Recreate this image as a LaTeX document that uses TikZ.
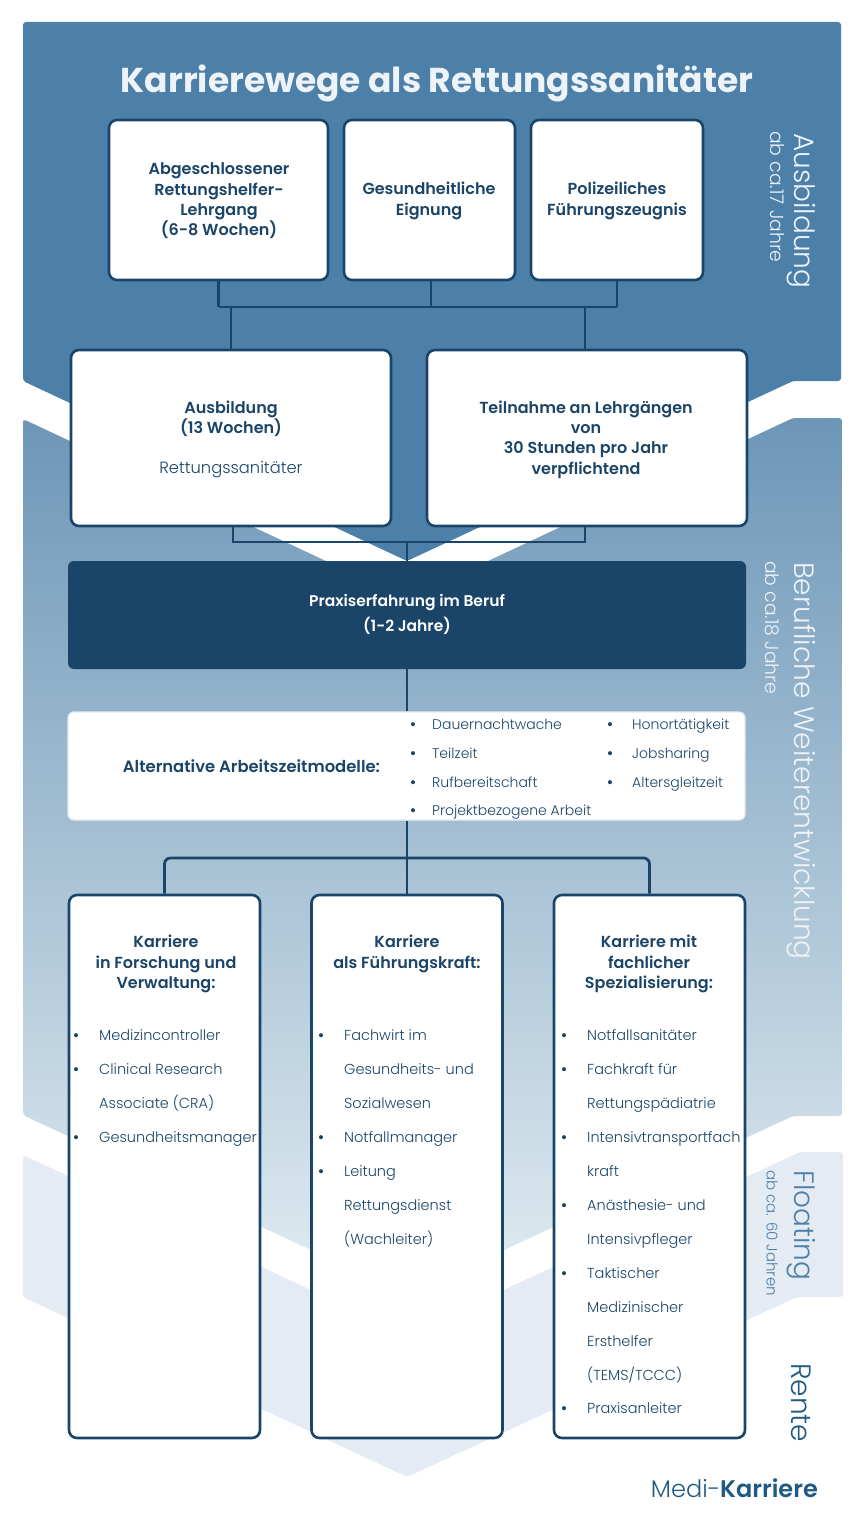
\documentclass[tikz,border=0pt]{standalone}
\usepackage{fontspec}
\setmainfont{Poppins}[UprightFont=* Light,BoldFont=* SemiBold]
\newfontface\titlefont{Poppins Bold}
\definecolor{navy}{HTML}{1B4568}
\definecolor{bandA}{HTML}{4D80A9}
\definecolor{bandBt}{HTML}{6D96B7}
\definecolor{bandBb}{HTML}{E1ECF2}
\definecolor{bandC}{HTML}{E4EBF3}
\definecolor{logo}{HTML}{1F5A85}
\definecolor{titlec}{HTML}{EEF3F8}
\tikzset{
  x=1pt,y=-1pt,
  card/.style={draw=navy,line width=2.6pt,fill=white,rounded corners=8pt},
  link/.style={draw=navy,line width=2.8pt},
  hd/.style={text=navy,align=center,font=\bfseries\fontsize{16}{20.3}\selectfont,inner sep=0pt},
  item/.style={text=navy,anchor=base west,inner sep=0pt,font=\fontsize{14.5}{17}\selectfont},
  dot/.style={text=navy,anchor=base,inner sep=0pt,font=\bfseries\fontsize{14.5}{17}\selectfont},
  side/.style={rotate=-90,anchor=west,inner sep=0pt,font=\fontsize{28}{32}\selectfont},
  subside/.style={rotate=-90,anchor=west,inner sep=0pt,font=\fontsize{18.8}{20}\selectfont},
}
\newcommand{\lst}[4]{% bullet x, text x, centre y, text
  \node[dot] (b-#1-#3) at (#1,#3+5) {•};
  \node[item] (t-#2-#3) at (#2,#3+5) {#4};}
\newcommand{\lsta}[4]{% the same, in the smaller size of the white band
  \node[dot] (b-#1-#3) at (#1,#3+5) {•};
  \node[item,font=\fontsize{14}{17}\selectfont] (t-#2-#3) at (#2,#3+5) {#4};}
\newcommand{\cnt}[3]{\node[item] (t-#1-#2) at (#1,#2+5) {#3};}
\begin{document}
\begin{tikzpicture}
\useasboundingbox (0,0) rectangle (864,1536);
\fill[white] (0,0) rectangle (864,1536);
% bands
\fill[bandC,rounded corners=3pt] (23,1155) -- (407,1335) -- (800,1152) -- (843,1152) -- (843,1297) -- (797,1297) -- (407,1477) -- (23,1297) -- cycle;
\shade[top color=bandBt,bottom color=bandBb,rounded corners=3pt] (23,419) -- (407,599) -- (793,418) -- (842,418) -- (842,1116) -- (793,1116) -- (407,1295) -- (23,1115) -- cycle;
\fill[bandA,rounded corners=3pt] (23,22) -- (841,22) -- (841,381) -- (793,381) -- (407,561) -- (23,381) -- cycle;
% title
\node[text=titlec,font=\titlefont\fontsize{34.5}{40}\selectfont,inner sep=0pt] (title) at (437,83) {Karrierewege als Rettungssanitäter};
% coordinates of the connector buses
\coordinate (busA) at (407,307);
\coordinate (busB) at (407,542);
\coordinate (busC) at (407,858);
% top cards
\node[card,minimum width=219pt,minimum height=160pt] (a) at (218.5,200) {};
\node[card,minimum width=171pt,minimum height=160pt] (b) at (429.5,200) {};
\node[card,minimum width=172pt,minimum height=160pt] (c) at (617,200) {};
\node[hd] (at) at (219,201) {Abgeschlossener\\Rettungshelfer-\\Lehrgang\\(6-8 Wochen)};
\node[hd] (bt) at (429,201) {Gesundheitliche\\Eignung};
\node[hd] (ct) at (617,201) {Polizeiliches\\Führungszeugnis};
% second row
\node[card,minimum width=320pt,minimum height=176pt] (d) at (231,438) {};
\node[card,minimum width=320pt,minimum height=176pt] (e) at (587,438) {};
\node[hd] (dt) at (231,418.5) {Ausbildung\\(13 Wochen)};
\node[text=navy,inner sep=0pt,font=\fontsize{16.3}{20}\selectfont] (dl) at (231,470) {Rettungssanitäter};
\node[hd] (et) at (586,439.5) {Teilnahme an Lehrgängen\\von\\30 Stunden pro Jahr\\verpflichtend};
% connectors upper
\draw[link] (a.south) -- (a.south |- busA);
\draw[link] (431,280) -- (431,307);
\draw[link] (c.south) -- (c.south |- busA);
\draw[link] (a.south |- busA) -- (c.south |- busA);
\draw[link] (d.north) -- (d.north |- busA);
\draw[link] (585,307) -- (585,350);
% practice box
\node[fill=navy,rounded corners=6pt,minimum width=678pt,minimum height=108pt,inner sep=0pt] (p) at (407,615) {};
\node[text=white,align=center,inner sep=0pt,font=\bfseries\fontsize{15.5}{25}\selectfont] (pt) at (407,614.5) {Praxiserfahrung im Beruf\\(1-2 Jahre)};
\draw[link] (233,526) -- (233,542) -- (585,542) -- (585,526);
\draw[link] (busB) -- (p.north);
% alternative box
\node[fill=white,draw=bandC,line width=1.2pt,rounded corners=6pt,minimum width=677pt,minimum height=108pt,inner sep=0pt] (alt) at (406.5,766) {};
\draw[link] (p.south) -- (alt.north -| p.south);
\node[hd,font=\bfseries\fontsize{16.4}{20}\selectfont] (altt) at (251.5,766) {Alternative Arbeitszeitmodelle:};
\lsta{413}{432}{724}{Dauernachtwache}
\lsta{413}{432}{753}{Teilzeit}
\lsta{413}{432}{782}{Rufbereitschaft}
\lsta{413}{432}{810}{Projektbezogene Arbeit}
\lsta{610}{632}{724}{Honortätigkeit}
\lsta{610}{632}{753}{Jobsharing}
\lsta{610}{632}{782}{Altersgleitzeit}
% bottom cards
\node[card,minimum width=191pt,minimum height=543pt] (f) at (164.5,1166.5) {};
\node[card,minimum width=191pt,minimum height=543pt] (g) at (407,1166.5) {};
\node[card,minimum width=191pt,minimum height=543pt] (h) at (649.5,1166.5) {};
\draw[link] (alt.south -| g.north) -- (g.north);
\draw[link,rounded corners=6pt] (f.north) -- (f.north |- busC) -- (h.north |- busC) -- (h.north);
\node[hd] (ft) at (166,964) {Karriere\\in Forschung und\\Verwaltung:};
\node[hd] (gt) at (407,954) {Karriere\\als Führungskraft:};
\node[hd] (ht) at (649,964) {Karriere mit\\fachlicher\\Spezialisierung:};
% lists
\lst{76}{99}{1035}{Medizincontroller}
\lst{76}{99}{1069}{Clinical Research}
\cnt{99}{1103}{Associate (CRA)}
\lst{76}{99}{1137}{Gesundheitsmanager}
\lst{321}{344}{1035}{Fachwirt im}
\cnt{344}{1069}{Gesundheits- und}
\cnt{344}{1103}{Sozialwesen}
\lst{321}{344}{1137}{Notfallmanager}
\lst{321}{344}{1171}{Leitung}
\cnt{344}{1205}{Rettungsdienst}
\cnt{344}{1239}{(Wachleiter)}
\lst{564}{587}{1035}{Notfallsanitäter}
\lst{564}{587}{1069}{Fachkraft für}
\cnt{587}{1103}{Rettungspädiatrie}
\lst{564}{587}{1137}{Intensivtransportfach}
\cnt{587}{1171}{kraft}
\lst{564}{587}{1205}{Anästhesie- und}
\cnt{587}{1239}{Intensivpfleger}
\lst{564}{587}{1273}{Taktischer}
\cnt{587}{1307}{Medizinischer}
\cnt{587}{1341}{Ersthelfer}
\cnt{587}{1375}{(TEMS/TCCC)}
\lst{564}{587}{1408}{Praxisanleiter}
% side labels
\node[side,text=titlec] (s1) at (801,133) {Ausbildung};
\node[subside,text=titlec] (s1b) at (777,131) {ab ca.17 Jahre};
\node[side,text=titlec] (s2) at (801,562) {Berufliche Weiterentwicklung};
\node[subside,text=titlec] (s2b) at (772,561) {ab ca.18 Jahre};
\node[side,text=bandA] (s3) at (801,1170) {Floating};
\node[subside,text=bandA,font=\fontsize{15}{18}\selectfont] (s3b) at (772,1170) {ab ca. 60 Jahren};
\node[side,text=logo] (s4) at (801,1363) {Rente};
% logo
\node[anchor=base east,inner sep=0pt,text=logo,font=\fontsize{24}{30}\selectfont] (logoT) at (818,1497) {Medi-\textbf{Karriere}};
\end{tikzpicture}
\end{document}
